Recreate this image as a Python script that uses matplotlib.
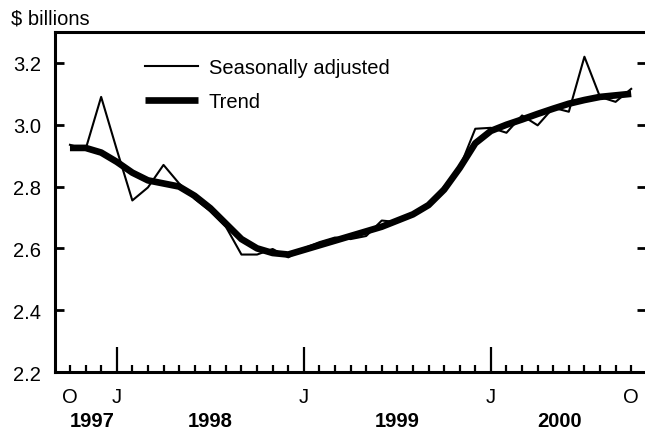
import matplotlib
matplotlib.use("Agg")
import matplotlib.pyplot as plt
import numpy as np

plt.rcParams['font.family'] = ['Liberation Sans', 'DejaVu Sans']

# monthly, Oct 1997 .. Oct 2000
seasonal = [2.935, 2.92, 3.09, 2.92, 2.755, 2.797, 2.87, 2.81, 2.76, 2.72,
            2.67, 2.58, 2.58, 2.598, 2.571, 2.60, 2.62, 2.635, 2.63, 2.64,
            2.69, 2.685, 2.71, 2.743, 2.80, 2.861, 2.987, 2.99, 2.974, 3.03,
            2.998, 3.055, 3.042, 3.22, 3.09, 3.074, 3.116]
trend = [2.925, 2.925, 2.91, 2.88, 2.845, 2.82, 2.81, 2.80, 2.77, 2.73,
         2.68, 2.63, 2.60, 2.585, 2.58, 2.595, 2.61, 2.625, 2.64, 2.655,
         2.67, 2.69, 2.71, 2.74, 2.79, 2.86, 2.94, 2.98, 3.0, 3.017,
         3.035, 3.052, 3.068, 3.08, 3.09, 3.095, 3.10]
yticks = [2.2, 2.4, 2.6, 2.8, 3.0, 3.2]
jan_pos = [3, 15, 27]
years = ["1997", "1998", "1999", "2000"]
year_pos = [1.4, 9, 21, 31.4]

x = np.arange(len(seasonal))

fig = plt.figure(figsize=(6.45, 4.31), dpi=100)
ax = fig.add_axes([55/645, 1-373/431, 591/645, 340/431])

ax.plot(x, trend, color="black", lw=4.8, label="Trend", solid_capstyle="butt")
ax.plot(x, seasonal, color="black", lw=1.5, label="Seasonally adjusted")

ax.set_xlim(-0.96, 36.95)
ax.set_ylim(2.2, 3.3)

for s in ["left", "top", "bottom"]:
    ax.spines[s].set_linewidth(2.2)
ax.spines["right"].set_visible(False)

ax.set_yticks(yticks)
ax.set_yticklabels(["%.1f" % v for v in yticks])
ax.tick_params(axis="y", direction="in", length=6.5, width=2, pad=10,
               right=True, labelsize=14.5)

ax.set_xticks(jan_pos)
ax.set_xticklabels(["J"] * len(jan_pos))
minor = [m for m in range(len(x)) if m not in jan_pos]
ax.set_xticks(minor, minor=True)
ax.set_xticklabels(["O" if m in (0, 36) else "" for m in minor], minor=True)
ax.tick_params(axis="x", which="major", direction="in", length=18, width=1.6,
               pad=11, labelsize=14.5)
ax.tick_params(axis="x", which="minor", direction="in", length=5, width=1.6,
               pad=11, labelsize=14.5)

for yr, p in zip(years, year_pos):
    ax.text(p, -0.143, yr, transform=ax.get_xaxis_transform(), ha="center",
            va="center", fontsize=14.5, fontweight="bold")

fig.text(11/645, 1-19/431, "$ billions", ha="left", va="center", fontsize=14.5)

h, l = ax.get_legend_handles_labels()
ax.legend(h[::-1], l[::-1], loc="upper left", bbox_to_anchor=(0.122, 0.976),
          frameon=False, fontsize=14.5, handlelength=2.6, handletextpad=0.55,
          labelspacing=0.75)

fig.savefig("out.png", dpi=100)
